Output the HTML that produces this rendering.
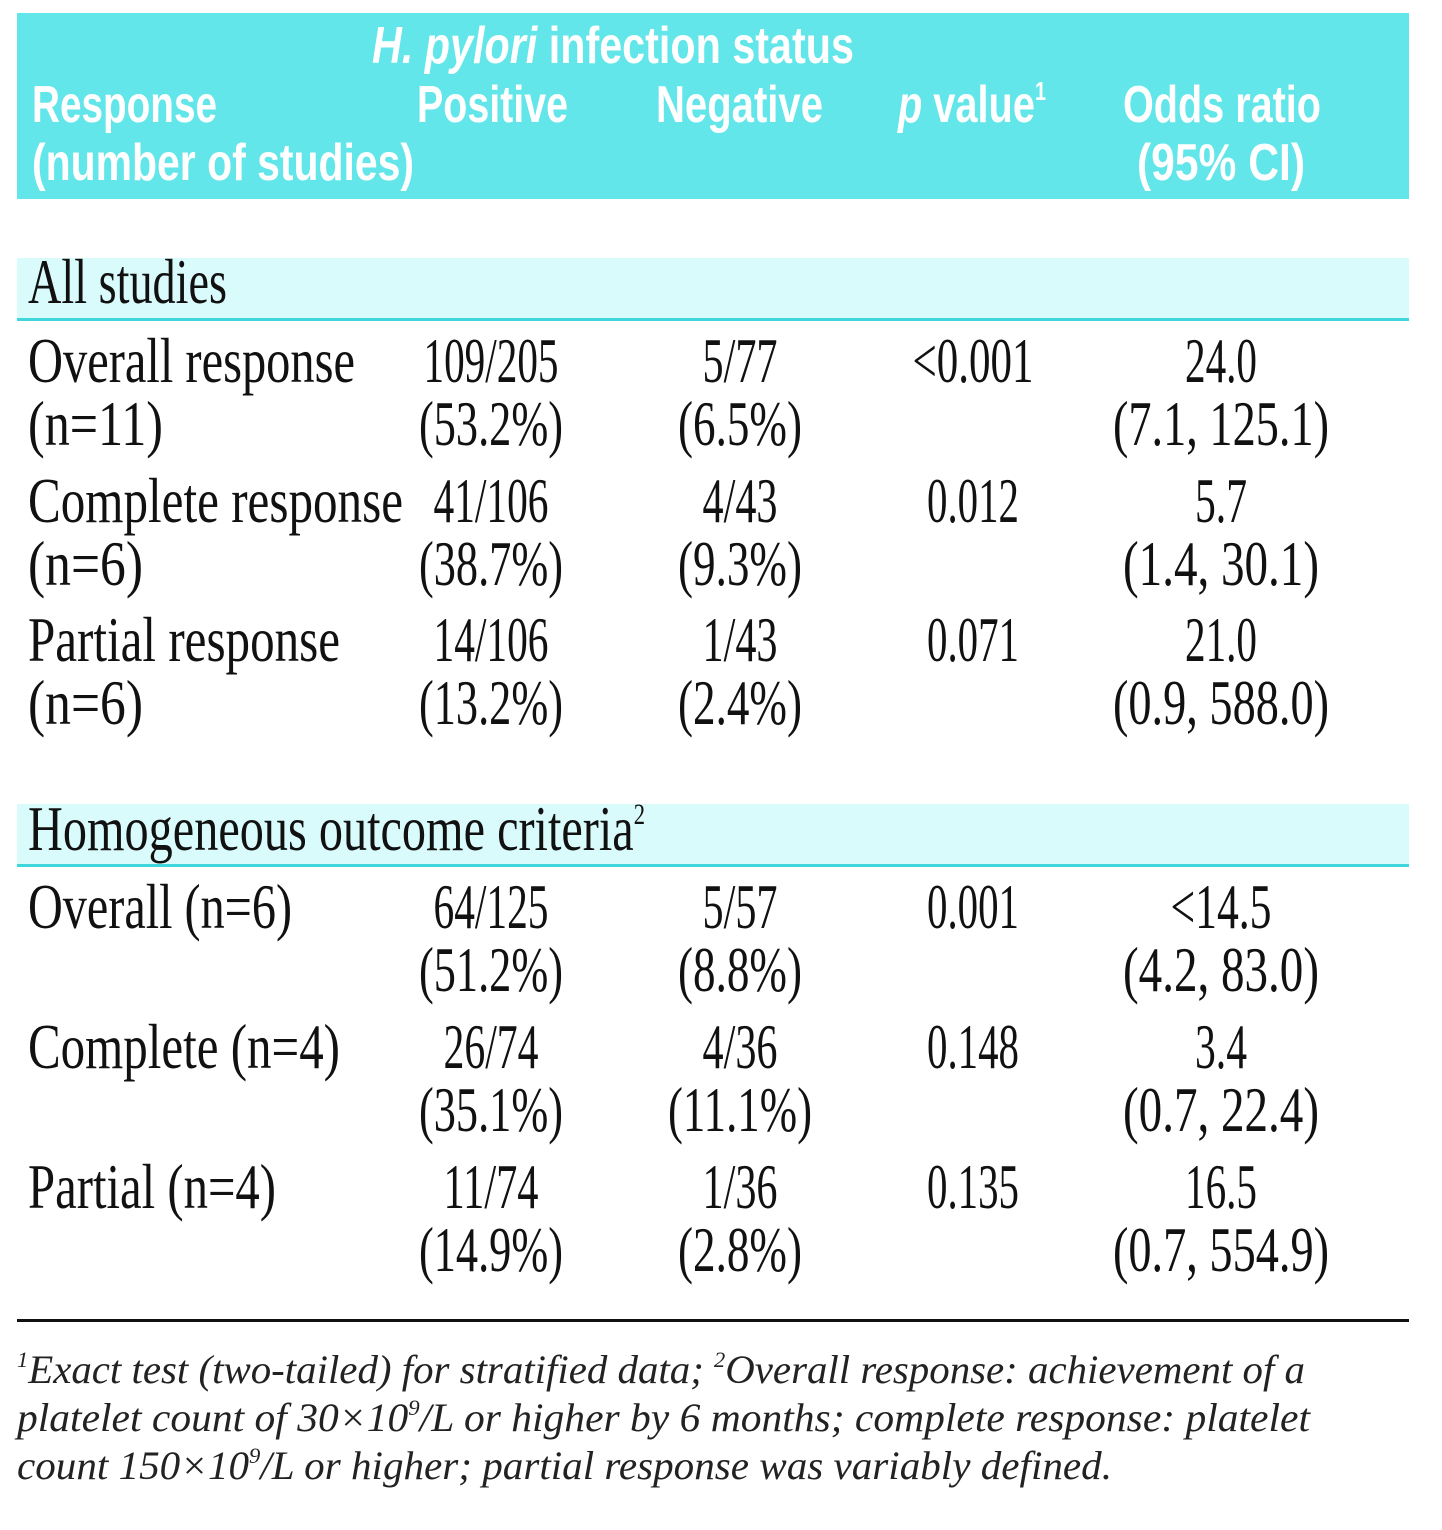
<!DOCTYPE html>
<html><head><meta charset="utf-8"><style>
html,body{margin:0;padding:0;background:#fff;}
svg{display:block;}
.h{font-family:"Liberation Sans",sans-serif;font-weight:bold;font-size:52px;fill:#fff;}
.b{font-family:"Liberation Serif",serif;font-size:64px;fill:#111;}
.f{font-family:"Liberation Serif",serif;font-style:italic;font-size:40px;fill:#222;}
</style></head><body>
<svg width="1442" height="1530" viewBox="0 0 1442 1530">
<rect x="0" y="0" width="1442" height="1530" fill="#fff"/>
<rect x="17" y="13" width="1392" height="186" fill="#62e6e9"/>
<g class="h">
<text x="372" y="63" textLength="482" lengthAdjust="spacingAndGlyphs"><tspan font-style="italic">H. pylori</tspan> infection status</text>
<text x="32" y="122" textLength="185" lengthAdjust="spacingAndGlyphs">Response</text>
<text x="417" y="122" textLength="151" lengthAdjust="spacingAndGlyphs">Positive</text>
<text x="656" y="122" textLength="167" lengthAdjust="spacingAndGlyphs">Negative</text>
<text x="898" y="122" textLength="148" lengthAdjust="spacingAndGlyphs"><tspan font-style="italic">p</tspan> value<tspan font-size="26" dy="-22">1</tspan></text>
<text x="1123" y="122" textLength="198" lengthAdjust="spacingAndGlyphs">Odds ratio</text>
<text x="32" y="180" textLength="382" lengthAdjust="spacingAndGlyphs">(number of studies)</text>
<text x="1137" y="180" textLength="168" lengthAdjust="spacingAndGlyphs">(95% CI)</text>
</g>

<rect x="17" y="258" width="1392" height="61" fill="#d9fbfc"/>
<rect x="17" y="318" width="1392" height="3" fill="#3fd6dc"/>
<rect x="17" y="804" width="1392" height="61" fill="#d9fbfc"/>
<rect x="17" y="864" width="1392" height="3" fill="#3fd6dc"/>
<rect x="17" y="1319" width="1392" height="3" fill="#111"/>

<g class="b">
<text x="28" y="303" textLength="199" lengthAdjust="spacingAndGlyphs">All studies</text>
<text x="28" y="850" textLength="617" lengthAdjust="spacingAndGlyphs">Homogeneous outcome criteria<tspan font-size="30" dy="-26">2</tspan></text>

<text x="28" y="382" textLength="327" lengthAdjust="spacingAndGlyphs">Overall response</text>
<text x="28" y="445" textLength="135" lengthAdjust="spacingAndGlyphs">(n=11)</text>
<text x="28" y="522" textLength="375" lengthAdjust="spacingAndGlyphs">Complete response</text>
<text x="28" y="585" textLength="115" lengthAdjust="spacingAndGlyphs">(n=6)</text>
<text x="28" y="661" textLength="312" lengthAdjust="spacingAndGlyphs">Partial response</text>
<text x="28" y="724" textLength="115" lengthAdjust="spacingAndGlyphs">(n=6)</text>
<text x="28" y="928" textLength="264" lengthAdjust="spacingAndGlyphs">Overall (n=6)</text>
<text x="28" y="1068" textLength="312" lengthAdjust="spacingAndGlyphs">Complete (n=4)</text>
<text x="28" y="1208" textLength="248" lengthAdjust="spacingAndGlyphs">Partial (n=4)</text>
</g>
<g class="b" id="cells" text-anchor="middle"></g>

<g class="f">
<text x="17" y="1383" textLength="1288" lengthAdjust="spacingAndGlyphs"><tspan font-size="22" dy="-16">1</tspan><tspan dy="16">Exact test (two-tailed) for stratified data; </tspan><tspan font-size="22" dy="-16">2</tspan><tspan dy="16">Overall response: achievement of a</tspan></text>
<text x="17" y="1431" textLength="1293" lengthAdjust="spacingAndGlyphs">platelet count of 30×10<tspan font-size="22" dy="-16">9</tspan><tspan dy="16">/L or higher by 6 months; complete response: platelet</tspan></text>
<text x="17" y="1479" textLength="1095" lengthAdjust="spacingAndGlyphs">count 150×10<tspan font-size="22" dy="-16">9</tspan><tspan dy="16">/L or higher; partial response was variably defined.</tspan></text>
</g>
</svg>
<script>
const positive = ["109/205","(53.2%)","41/106","(38.7%)","14/106","(13.2%)","64/125","(51.2%)","26/74","(35.1%)","11/74","(14.9%)"];
const negative = ["5/77","(6.5%)","4/43","(9.3%)","1/43","(2.4%)","5/57","(8.8%)","4/36","(11.1%)","1/36","(2.8%)"];
const pValues = ["<0.001","","0.012","","0.071","","0.001","","0.148","","0.135",""];
const oddsRatios = ["24.0","(7.1, 125.1)","5.7","(1.4, 30.1)","21.0","(0.9, 588.0)","<14.5","(4.2, 83.0)","3.4","(0.7, 22.4)","16.5","(0.7, 554.9)"];
const baselines = [382,445,522,585,661,724,928,991,1068,1131,1208,1271];
const cols = [[positive,491],[negative,740],[pValues,973],[oddsRatios,1221]];
const g = document.getElementById('cells');
const ns = 'http://www.w3.org/2000/svg';
function w(s){let t=0;for(const c of s){t+= /[0-9]/.test(c)?20:(c==='/'?15:(c==='('||c===')')?20:(c==='.')?12:c===','?14:c===' '?18:c==='%'?32:c==='<'?29:18);}return t;}
cols.forEach(([arr,cx],ci)=>{
  arr.forEach((s,i)=>{
    if(!s) return;
    const t=document.createElementNS(ns,'text');
    t.setAttribute('x',cx);
    t.setAttribute('y',baselines[i]);
    t.setAttribute('textLength',Math.round(w(s)));
    t.setAttribute('lengthAdjust','spacingAndGlyphs');
    t.textContent=s;
    
    
    g.appendChild(t);
  });
});
</script>
</body></html>
